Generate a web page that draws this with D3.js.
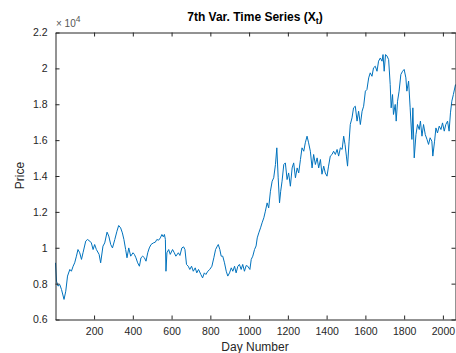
<!DOCTYPE html>
<html>
<head>
<meta charset="utf-8">
<script src="https://cdn.jsdelivr.net/npm/d3@7"></script>
<style>
  body { margin: 0; background: #fff; }
  svg { display: block; font-family: "Liberation Sans", Arial, sans-serif; }
</style>
</head>
<body>
<div id="chart"></div>
<script>
// values
const days = [1, 6, 14, 23, 32, 45, 54, 63, 75, 83, 92, 100, 109, 117, 126, 135, 143, 157, 166, 178,
  186, 195, 203, 212, 226, 234, 246, 255, 267, 276, 286, 295, 307, 318, 327, 337, 346, 354, 363, 370,
  379, 389, 401, 408, 416, 425, 434, 442, 451, 460, 468, 477, 485, 494, 506, 516, 524, 533, 542, 550,
  557, 563, 568, 571, 576, 585, 593, 605, 614, 622, 635, 643, 653, 662, 669, 677, 686, 694, 703, 712,
  722, 730, 739, 751, 760, 769, 777, 787, 797, 808, 818, 827, 836, 841, 849, 856, 864, 873, 882, 890,
  899, 908, 916, 925, 933, 942, 950, 959, 967, 976, 985, 993, 1004, 1011, 1019, 1028, 1036, 1042, 1050, 1059,
  1067, 1076, 1084, 1093, 1101, 1110, 1119, 1127, 1136, 1143, 1150, 1157, 1163, 1170, 1179, 1187, 1196, 1204, 1213, 1222,
  1230, 1239, 1248, 1256, 1265, 1273, 1282, 1290, 1299, 1307, 1316, 1325, 1333, 1342, 1351, 1359, 1368, 1376, 1385, 1393,
  1402, 1410, 1419, 1428, 1436, 1445, 1454, 1462, 1471, 1480, 1488, 1495, 1502, 1508, 1516, 1522, 1531, 1539, 1548, 1557,
  1565, 1574, 1583, 1591, 1600, 1608, 1617, 1625, 1634, 1642, 1651, 1660, 1668, 1677, 1686, 1691, 1697, 1704, 1711, 1720,
  1728, 1733, 1740, 1745, 1754, 1759, 1766, 1774, 1783, 1792, 1800, 1809, 1814, 1823, 1831, 1840, 1845, 1852, 1861, 1869,
  1878, 1884, 1892, 1900, 1909, 1918, 1926, 1934, 1943, 1948, 1957, 1964, 1972, 1981, 1990, 1998, 2007, 2015, 2024, 2032,
  2039, 2046, 2054, 2065];
const prices = [9160, 8140, 7860, 7950, 7670, 7120, 7580, 8420, 8790, 8690, 8970, 9160, 9530, 9900, 9720, 9350, 9720, 10370, 10460, 10370,
  10270, 9900, 10180, 9900, 9630, 9160, 10090, 10270, 10870, 10650, 10180, 9990, 10460, 10920, 11240, 11110, 10830, 10460, 9900, 9440,
  9990, 9530, 9720, 9630, 9440, 9160, 8970, 9440, 9530, 9440, 9250, 9720, 9990, 10180, 10270, 10310, 10460, 10420, 10550, 10740,
  10610, 10740, 10460, 8690, 9720, 9900, 9630, 9900, 9720, 9530, 9720, 9570, 9990, 10050, 9900, 9070, 8970, 8790, 8970, 8690,
  8880, 8600, 8790, 8510, 8320, 8600, 8510, 8690, 8790, 8970, 9440, 9900, 10090, 10180, 9900, 9530, 9530, 9160, 8690, 8420,
  8600, 8880, 8690, 8970, 8600, 8970, 9070, 8790, 9070, 8690, 9010, 8970, 8790, 9350, 9530, 9900, 10100, 10550, 10830, 11110,
  11390, 11670, 12040, 12500, 12220, 13150, 13710, 13900, 14640, 15570, 13900, 12500, 13150, 13710, 14640, 14730, 13800, 14170, 13430, 14450,
  14730, 13900, 14450, 14170, 14920, 15570, 15380, 15850, 16220, 15850, 15380, 14450, 15200, 14640, 15010, 14450, 14920, 14100, 14550, 14170,
  13990, 14550, 15110, 15200, 15380, 15200, 15480, 15110, 15570, 15480, 16220, 15760, 15110, 14550, 15940, 16870, 17240, 17800, 17890, 17060,
  17610, 16870, 17610, 17890, 18730, 18820, 19470, 19750, 19560, 20030, 20120, 19840, 20400, 20580, 20400, 20770, 19840, 20770, 20700, 20490,
  19100, 17800, 18540, 17430, 17990, 17060, 18170, 18730, 19660, 19840, 19940, 19470, 18730, 19290, 17800, 16040, 17800, 15010, 16310, 16870,
  16590, 17060, 16220, 16870, 16310, 16040, 15760, 16130, 15940, 15110, 15940, 16680, 16400, 16780, 16590, 16960, 16500, 16870, 17060, 16500,
  17520, 18170, 18540, 19100];
const xTicks = [200, 400, 600, 800, 1000, 1200, 1400, 1600, 1800, 2000];
const yTicks = [6000, 8000, 10000, 12000, 14000, 16000, 18000, 20000, 22000];
const xDomain = [1, 2065];
const yDomain = [6000, 22000];

const width = 456, height = 353;
const margin = { top: 32, right: 1, bottom: 34, left: 55 };
const innerW = width - margin.left - margin.right;
const innerH = height - margin.top - margin.bottom;
const axisColor = '#262626';

const svg = d3.select('#chart').append('svg')
  .attr('width', width)
  .attr('height', height);

const g = svg.append('g')
  .attr('transform', `translate(${margin.left + 0.5},${margin.top + 0.5})`);

const x = d3.scaleLinear().domain(xDomain).range([0, innerW]);
const y = d3.scaleLinear().domain(yDomain).range([innerH, 0]);

// series
const series = days.map((d, i) => ({ day: d, price: prices[i] }));
g.append('path')
  .datum(series)
  .attr('fill', 'none')
  .attr('stroke', '#0072BD')
  .attr('stroke-width', 1)
  .attr('d', d3.line().x(d => x(d.day)).y(d => y(d.price)));

// axes (MATLAB style box with inward ticks on all four sides)
const styleAxis = sel => {
  sel.select('.domain').attr('stroke', axisColor);
  sel.selectAll('.tick line').attr('stroke', axisColor);
  sel.selectAll('.tick text').attr('fill', axisColor).attr('font-size', 10.5);
};

g.append('g')
  .attr('transform', `translate(0,${innerH})`)
  .call(d3.axisBottom(x).tickValues(xTicks).tickSizeInner(-4).tickSizeOuter(0).tickPadding(8)
    .tickFormat(d3.format('d')))
  .call(styleAxis);

g.append('g')
  .call(d3.axisTop(x).tickValues(xTicks).tickSizeInner(-4).tickSizeOuter(0).tickFormat(''))
  .call(styleAxis);

g.append('g')
  .call(d3.axisLeft(y).tickValues(yTicks).tickSizeInner(-4).tickSizeOuter(0).tickPadding(8)
    .tickFormat(d => d3.format('~g')(d / 1e4)))
  .call(styleAxis);

g.append('g')
  .attr('transform', `translate(${innerW},0)`)
  .call(d3.axisRight(y).tickValues(yTicks).tickSizeInner(-4).tickSizeOuter(0).tickFormat(''))
  .call(styleAxis);

// exponent label
const expo = svg.append('text')
  .attr('x', margin.left + 1)
  .attr('y', margin.top - 5)
  .attr('fill', '#555')
  .attr('font-size', 10);
expo.append('tspan').text('\u00d7 10');
expo.append('tspan').attr('dy', -5).attr('font-size', 8.5).text('4');

// title
const title = svg.append('text')
  .attr('x', margin.left + innerW / 2)
  .attr('y', 21)
  .attr('text-anchor', 'middle')
  .attr('font-weight', 'bold')
  .attr('font-size', 12)
  .attr('fill', '#000');
title.append('tspan').text('7th Var. Time Series (X');
title.append('tspan').attr('dy', 3).attr('font-size', 9).text('t');
title.append('tspan').attr('dy', -3).text(')');

// axis labels
svg.append('text')
  .attr('x', margin.left + innerW / 2)
  .attr('y', height - 2)
  .attr('text-anchor', 'middle')
  .attr('font-size', 12)
  .attr('fill', axisColor)
  .text('Day Number');

svg.append('text')
  .attr('transform', `translate(24,${margin.top + innerH / 2}) rotate(-90)`)
  .attr('text-anchor', 'middle')
  .attr('font-size', 12)
  .attr('fill', axisColor)
  .text('Price');
</script>
</body>
</html>
